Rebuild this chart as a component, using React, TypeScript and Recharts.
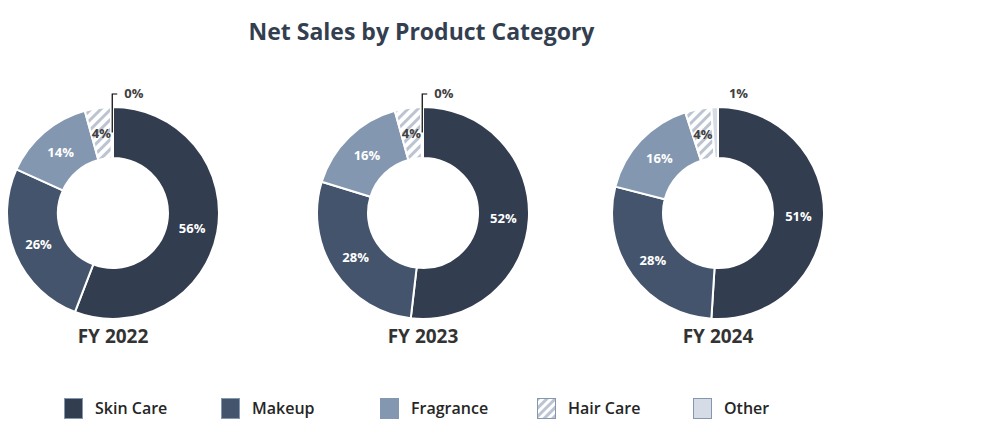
import React from 'react';
import { PieChart, Pie, Cell } from 'recharts';

// Net sales share (%) by category, order: Skin Care, Makeup, Fragrance, Hair Care, Other
const categories = ['Skin Care', 'Makeup', 'Fragrance', 'Hair Care', 'Other'];
const fy2022 = [56, 26, 14, 4, 0.3];
const fy2023 = [52, 28, 16, 4, 0.3];
const fy2024 = [51, 28, 16, 4, 1];
const years = ['FY 2022', 'FY 2023', 'FY 2024'];

const colors = ['#333d50', '#44546c', '#8497b0', 'url(#hairHatch)', '#d6dce5'];
const labelColors = ['#ffffff', '#ffffff', '#ffffff', '#404040', '#404040'];

const FONT = '"Open Sans", "Noto Sans", sans-serif';
const RADIAN = Math.PI / 180;

const toData = (vals: number[]) => categories.map((name, i) => ({ name, value: vals[i] }));

const renderLabel = (props: any) => {
  const { cx, cy, midAngle, innerRadius, outerRadius, value, index } = props;
  const text = `${Math.round(value)}%`;
  const r = (innerRadius + outerRadius) / 2;
  const x = cx + r * Math.cos(-midAngle * RADIAN);
  const y = cy + r * Math.sin(-midAngle * RADIAN);
  if (index === 4) {
    // small "Other" slice: label above the ring
    const ty = cy - outerRadius - 13;
    if (value < 0.5) {
      return (
        <g>
          <polyline points={`${x},${y} ${x},${ty} ${x + 5},${ty}`} fill="none" stroke="#000" strokeWidth={1.2} />
          <text x={x + 12} y={ty} dy={4} fontFamily={FONT} fontWeight={700} fontSize={13} fill="#404040">{text}</text>
        </g>
      );
    }
    return (
      <text x={x + 23} y={ty} dy={4} textAnchor="middle" fontFamily={FONT} fontWeight={700} fontSize={13} fill="#404040">{text}</text>
    );
  }
  return (
    <text x={x} y={y} dy={5} textAnchor="middle" fontFamily={FONT} fontWeight={700} fontSize={13} fill={labelColors[index]}>
      {text}
    </text>
  );
};

const pies = [
  { data: toData(fy2022), cx: 113 },
  { data: toData(fy2023), cx: 423 },
  { data: toData(fy2024), cx: 718 },
];

const Swatch = ({ i }: { i: number }) => (
  <svg width={19} height={21} style={{ display: 'block' }}>
    <defs>
      <pattern id={`legHatch${i}`} width={6} height={6} patternUnits="userSpaceOnUse" patternTransform="rotate(45)">
        <rect width={6} height={6} fill="#ffffff" />
        <rect width={3} height={6} fill="#bcc4d2" />
      </pattern>
    </defs>
    <rect x={0.5} y={0.5} width={18} height={20}
      fill={i === 3 ? `url(#legHatch${i})` : colors[i]} stroke="#8497b0" strokeWidth={1} />
  </svg>
);

const legendX = [64, 221, 380, 537, 693];

export default function App() {
  return (
    <div style={{ position: 'absolute', left: 0, top: 0, width: 981, height: 436, background: '#fff', fontFamily: FONT }}>
      <div style={{ position: 'absolute', left: 0, width: 843, top: 15, textAlign: 'center', fontSize: 23, fontWeight: 700, color: '#333f50' }}>
        Net Sales by Product Category
      </div>
      <PieChart width={981} height={436} margin={{ top: 0, right: 0, bottom: 0, left: 0 }}>
        <defs>
          <pattern id="hairHatch" width={7} height={7} patternUnits="userSpaceOnUse" patternTransform="rotate(45)">
            <rect width={7} height={7} fill="#ffffff" />
            <rect width={3} height={7} fill="#bcc4d2" />
          </pattern>
        </defs>
        {pies.map((p, k) => (
          <Pie
            key={k}
            data={p.data}
            dataKey="value"
            nameKey="name"
            cx={p.cx}
            cy={213}
            innerRadius={55}
            outerRadius={106}
            startAngle={90}
            endAngle={-270}
            stroke="#ffffff"
            strokeWidth={2}
            labelLine={false}
            label={renderLabel}
            isAnimationActive={false}
          >
            {p.data.map((d, i) => (
              <Cell key={d.name} fill={colors[i]} />
            ))}
          </Pie>
        ))}
      </PieChart>
      {years.map((y, k) => (
        <div key={y} style={{ position: 'absolute', left: pies[k].cx - 80, width: 160, top: 323, textAlign: 'center', fontSize: 19, fontWeight: 700, color: '#333333' }}>
          {y}
        </div>
      ))}
      {categories.map((c, i) => (
        <div key={c} style={{ position: 'absolute', left: legendX[i], top: 397, display: 'flex', alignItems: 'center' }}>
          <Swatch i={i} />
          <span style={{ marginLeft: 12, fontSize: 16, fontWeight: 600, color: '#262626' }}>{c}</span>
        </div>
      ))}
    </div>
  );
}
